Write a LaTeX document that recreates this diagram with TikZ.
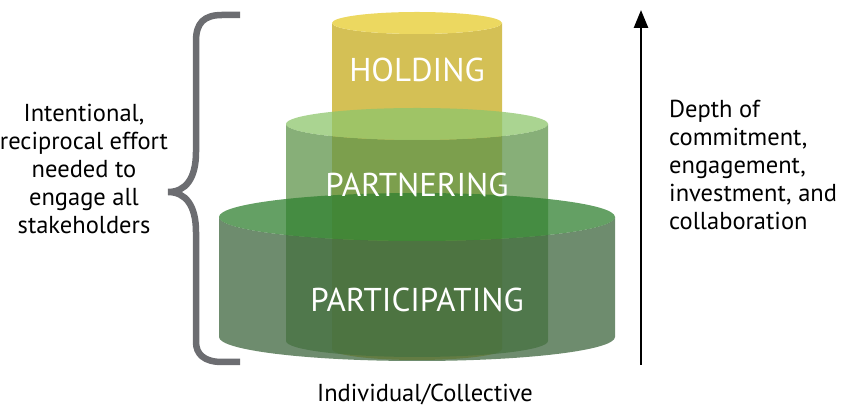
\documentclass[tikz,border=0pt]{standalone}
\usepackage{fontspec}
\setmainfont{PT Sans}
\usetikzlibrary{
    arrows.meta,
    positioning
}
\definecolor{yelSide}{RGB}{212,192, 85}
\definecolor{yelTop} {RGB}{236,216, 96}
\definecolor{midSide}{RGB}{ 95,148, 75}
\definecolor{midTop} {RGB}{142,198,108}
\definecolor{botSide}{RGB}{ 62,102, 62}
\definecolor{botTop} {RGB}{ 48,128, 48}
\definecolor{braceC} {RGB}{108,109,113}
\tikzset{
  tier/.style      = {fill opacity=0.75},
  tierlabel/.style = {text=white, inner sep=0pt,
                      font=\fontsize{33}{36}\selectfont},
  sidetext/.style  = {inner sep=0pt, font=\fontsize{24.5}{28}\selectfont},
  brace/.style     = {braceC, line width=6.5pt},
  axisarr/.style   = {-{Triangle[length=18pt,width=14pt]}, line width=2.6pt}
}
% one tier: centre x, x radius, y radius, top y, bottom y, side, top, extra
\newcommand{\drawtier}[8]{%
  \fill[#6, #8]
    ({#1-#2},#4) -- ({#1-#2},#5)
    arc[start angle=180, end angle=360, x radius=#2pt, y radius=#3pt]
    -- ({#1+#2},#4)
    arc[start angle=0, end angle=-180, x radius=#2pt, y radius=#3pt]
    -- cycle;
  \fill[#7, #8] (#1,#4) ellipse[x radius=#2pt, y radius=#3pt];
}

\begin{document}
\begin{tikzpicture}[x=1pt, y=1pt]
  \useasboundingbox (0,0) rectangle (845,414);

  %% ── Tiers (back to front) ─────────────────────────────────────
  \drawtier{417}{ 85}{11}{391}{65}{yelSide}{yelTop}{}      % holding
  \drawtier{417}{131}{16}{290}{73}{midSide}{midTop}{tier}  % partnering
  \drawtier{417}{198}{24}{197}{77}{botSide}{botTop}{tier}  % participating

  %% ── Tier labels ───────────────────────────────────────────────
  \node[tierlabel] (holding)  at (417,344) {HOLDING};
  \node[tierlabel] (partner)  at (417,229) {PARTNERING};
  \node[tierlabel] (particip) at (417,114) {PARTICIPATING};

  %% ── Brace ─────────────────────────────────────────────────────
  \draw[brace]
    (240,399) -- (222,399) .. controls (204,399) and (196,391) .. (196,373)
    -- (196,262) .. controls (196,236) and (186,222) .. (168,222)
    .. controls (186,222) and (196,208) .. (196,182)
    -- (196,72) .. controls (196,60) and (204,52) .. (222,52) -- (240,52);

  %% ── Side texts ────────────────────────────────────────────────
  \node[sidetext, align=center] (effort) at (84,245)
    {Intentional,\\reciprocal effort\\needed to\\engage all\\stakeholders};
  \node[sidetext, align=left, anchor=west] (depth) at (669,249)
    {Depth of\\commitment,\\engagement,\\investment, and\\collaboration};
  \node[sidetext, anchor=base] (scope) at (425,12) {Individual/Collective};

  %% ── Depth arrow ───────────────────────────────────────────────
  \coordinate (axislow)  at (641,49);
  \coordinate (axishigh) at (641,404);
  \draw[axisarr] (axislow) -- (axishigh);

\end{tikzpicture}
\end{document}
